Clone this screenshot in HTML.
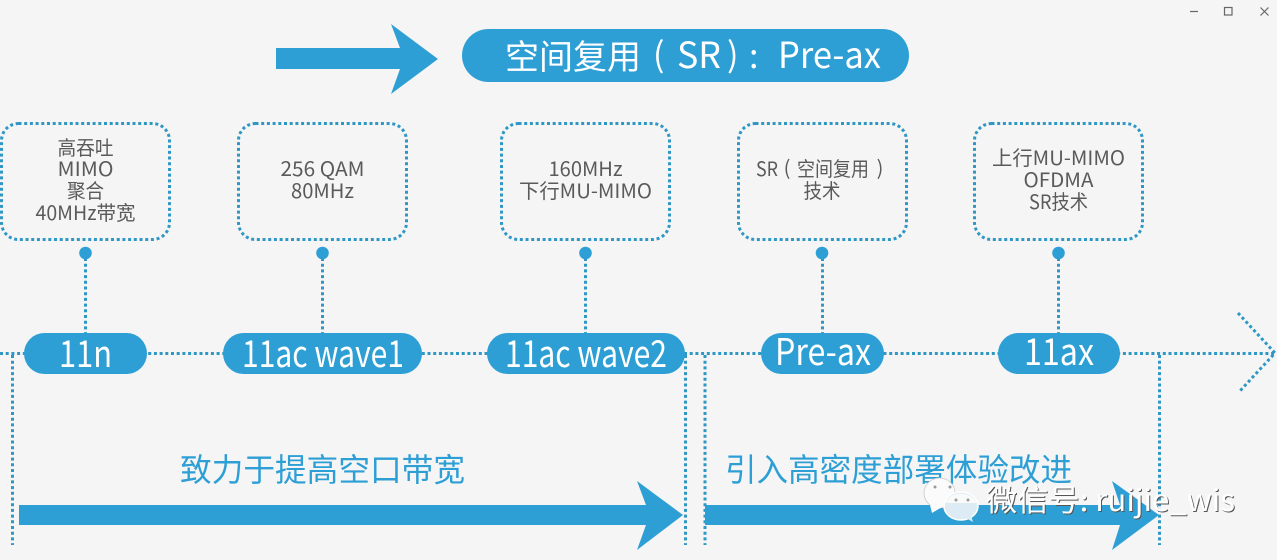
<!DOCTYPE html>
<html>
<head>
<meta charset="utf-8">
<style>
html,body{margin:0;padding:0;background:#f5f5f6;width:1277px;height:560px;overflow:hidden}
svg{display:block}
text{font-family:"Noto Sans CJK SC","Liberation Sans",sans-serif}
.t{fill:#5a5a5a;font-size:20px;text-anchor:middle}
.p{fill:#fff;font-size:37px;text-anchor:start}
.d{stroke:#2f97c4;stroke-width:3;stroke-dasharray:3 2.7;fill:none}
.b{fill:#2d9fd5}
.h{fill:#2d9fd5;font-size:32px}
</style>
</head>
<body>
<svg width="1277" height="560" viewBox="0 0 1277 560" xmlns="http://www.w3.org/2000/svg">
<rect width="1277" height="560" fill="#f5f5f6"/>

<!-- window controls -->
<path d="M1190 11.5H1198" stroke="#666" stroke-width="1.2"/>
<rect x="1224.500" y="7.500" width="7.500" height="7.500" fill="none" stroke="#666" stroke-width="1.2"/>
<path d="M1260.500 7.500L1268.500 15.500M1268.500 7.500L1260.500 15.500" stroke="#666" stroke-width="1.2"/>

<!-- top arrow and title -->
<polygon class="b" points="276,48 400,48 391,24 438,59 391,94 400,69 276,69"/>
<rect class="b" x="462" y="29" width="447" height="53" rx="26.500"/>
<text x="505" y="69" fill="#fff" font-size="34" textLength="136" lengthAdjust="spacingAndGlyphs">空间复用</text>
<text x="653" y="67" fill="#fff" font-size="34">(</text>
<text x="677" y="68" fill="#fff" font-size="36" textLength="44" lengthAdjust="spacingAndGlyphs">SR</text>
<text x="727" y="67" fill="#fff" font-size="34">)</text>
<text x="749" y="68" fill="#fff" font-size="34">:</text>
<text x="778" y="68" fill="#fff" font-size="36" textLength="103" lengthAdjust="spacingAndGlyphs">Pre-ax</text>

<!-- boxes -->
<rect class="d" x="1.500" y="123.500" width="168" height="116" rx="17"/>
<rect class="d" x="238.500" y="123.500" width="168" height="116" rx="17"/>
<rect class="d" x="501.500" y="123.500" width="168" height="116" rx="17"/>
<rect class="d" x="738.500" y="123.500" width="168" height="116" rx="17"/>
<rect class="d" x="974.500" y="123.500" width="168" height="116" rx="17"/>

<!-- box text -->
<text class="t" x="85.500" y="155" textLength="56" lengthAdjust="spacingAndGlyphs">高吞吐</text>
<text class="t" x="85.500" y="176" textLength="56" lengthAdjust="spacingAndGlyphs">MIMO</text>
<text class="t" x="85.500" y="198" textLength="37" lengthAdjust="spacingAndGlyphs">聚合</text>
<text class="t" x="85.500" y="220" textLength="100" lengthAdjust="spacingAndGlyphs">40MHz带宽</text>

<text class="t" x="322.500" y="176" textLength="84" lengthAdjust="spacingAndGlyphs">256 QAM</text>
<text class="t" x="322.500" y="198" textLength="63" lengthAdjust="spacingAndGlyphs">80MHz</text>

<text class="t" x="585.500" y="176" textLength="74" lengthAdjust="spacingAndGlyphs">160MHz</text>
<text class="t" x="585.500" y="198" textLength="133" lengthAdjust="spacingAndGlyphs">下行MU-MIMO</text>

<text class="t" x="767" y="176" textLength="22" lengthAdjust="spacingAndGlyphs">SR</text>
<text class="t" x="787" y="175">(</text>
<text class="t" x="833" y="176" textLength="72" lengthAdjust="spacingAndGlyphs">空间复用</text>
<text class="t" x="880" y="175">)</text>
<text class="t" x="822" y="198" textLength="37" lengthAdjust="spacingAndGlyphs">技术</text>

<text class="t" x="1058.500" y="165" textLength="133" lengthAdjust="spacingAndGlyphs">上行MU-MIMO</text>
<text class="t" x="1058.500" y="187" textLength="70" lengthAdjust="spacingAndGlyphs">OFDMA</text>
<text class="t" x="1058.500" y="209" textLength="59" lengthAdjust="spacingAndGlyphs">SR技术</text>

<!-- connectors -->
<g class="d">
<path d="M85.500 258V333"/>
<path d="M322.500 258V333"/>
<path d="M585.500 258V333"/>
<path d="M822.500 258V333"/>
<path d="M1058.500 258V333"/>
<path d="M0 353.500H1274"/>
<path d="M1238 313L1275 353L1239 392"/>
<path d="M12.500 355V545"/>
<path d="M685.500 355V545"/>
<path d="M705 355V545"/>
<path d="M1159.500 355V545"/>
</g>
<g class="b">
<circle cx="85.500" cy="253" r="6.300"/>
<circle cx="322.500" cy="253" r="6.300"/>
<circle cx="585.500" cy="253" r="6.300"/>
<circle cx="822" cy="253" r="6.300"/>
<circle cx="1058.500" cy="253" r="6.300"/>
</g>

<!-- pills -->
<rect class="b" x="24" y="333" width="123" height="41" rx="20.500"/>
<rect class="b" x="223" y="333" width="199" height="41" rx="20.500"/>
<rect class="b" x="487" y="333" width="198" height="41" rx="20.500"/>
<rect class="b" x="761" y="333" width="123" height="41" rx="20.500"/>
<rect class="b" x="998" y="333" width="122" height="41" rx="20.500"/>
<text class="p" x="59" y="367" textLength="53" lengthAdjust="spacingAndGlyphs">11n</text>
<text class="p" x="242" y="367" textLength="162" lengthAdjust="spacingAndGlyphs">11ac wave1</text>
<text class="p" x="505" y="367" textLength="162" lengthAdjust="spacingAndGlyphs">11ac wave2</text>
<text class="p" x="775" y="365" textLength="96" lengthAdjust="spacingAndGlyphs">Pre-ax</text>
<text class="p" x="1024" y="365" textLength="70" lengthAdjust="spacingAndGlyphs">11ax</text>

<!-- bottom headings -->
<text class="h" x="180" y="481" textLength="285" lengthAdjust="spacingAndGlyphs">致力于提高空口带宽</text>
<text class="h" x="725" y="481" textLength="347" lengthAdjust="spacingAndGlyphs">引入高密度部署体验改进</text>

<!-- bottom arrows -->
<polygon class="b" points="19,505 646,505 637,481 683,515 637,550 646,525 19,525"/>
<polygon class="b" points="705,505 1120,505 1112,481 1159,515 1112,550 1120,525 705,525"/>

<!-- watermark -->
<g>
<ellipse cx="939.500" cy="493" rx="15.500" ry="15" fill="#fbfbfb" stroke="#c9c9c9" stroke-width=".8"/>
<polygon points="930,505 932,513 942,507" fill="#fbfbfb"/>
<ellipse cx="961" cy="506" rx="17" ry="14" fill="#dcebf4" stroke="#fff" stroke-width="1.500"/>
<path d="M945 503A17 14 0 0 1 977 503Z" fill="#fafafa"/>
<polygon points="966,518 973,522 971,515" fill="#dcebf4"/>
<circle cx="935" cy="487" r="1.500" fill="#999"/>
<circle cx="950" cy="487" r="1.500" fill="#999"/>
<circle cx="956" cy="500" r="1.500" fill="#999"/>
<circle cx="968" cy="500" r="1.500" fill="#999"/>
</g>
<text x="987" y="512" font-size="30" fill="#555" textLength="249" lengthAdjust="spacingAndGlyphs">微信号: ruijie_wis</text>
<text x="986" y="511" font-size="30" fill="#fff" textLength="249" lengthAdjust="spacingAndGlyphs">微信号: ruijie_wis</text>
</svg>
</body>
</html>
